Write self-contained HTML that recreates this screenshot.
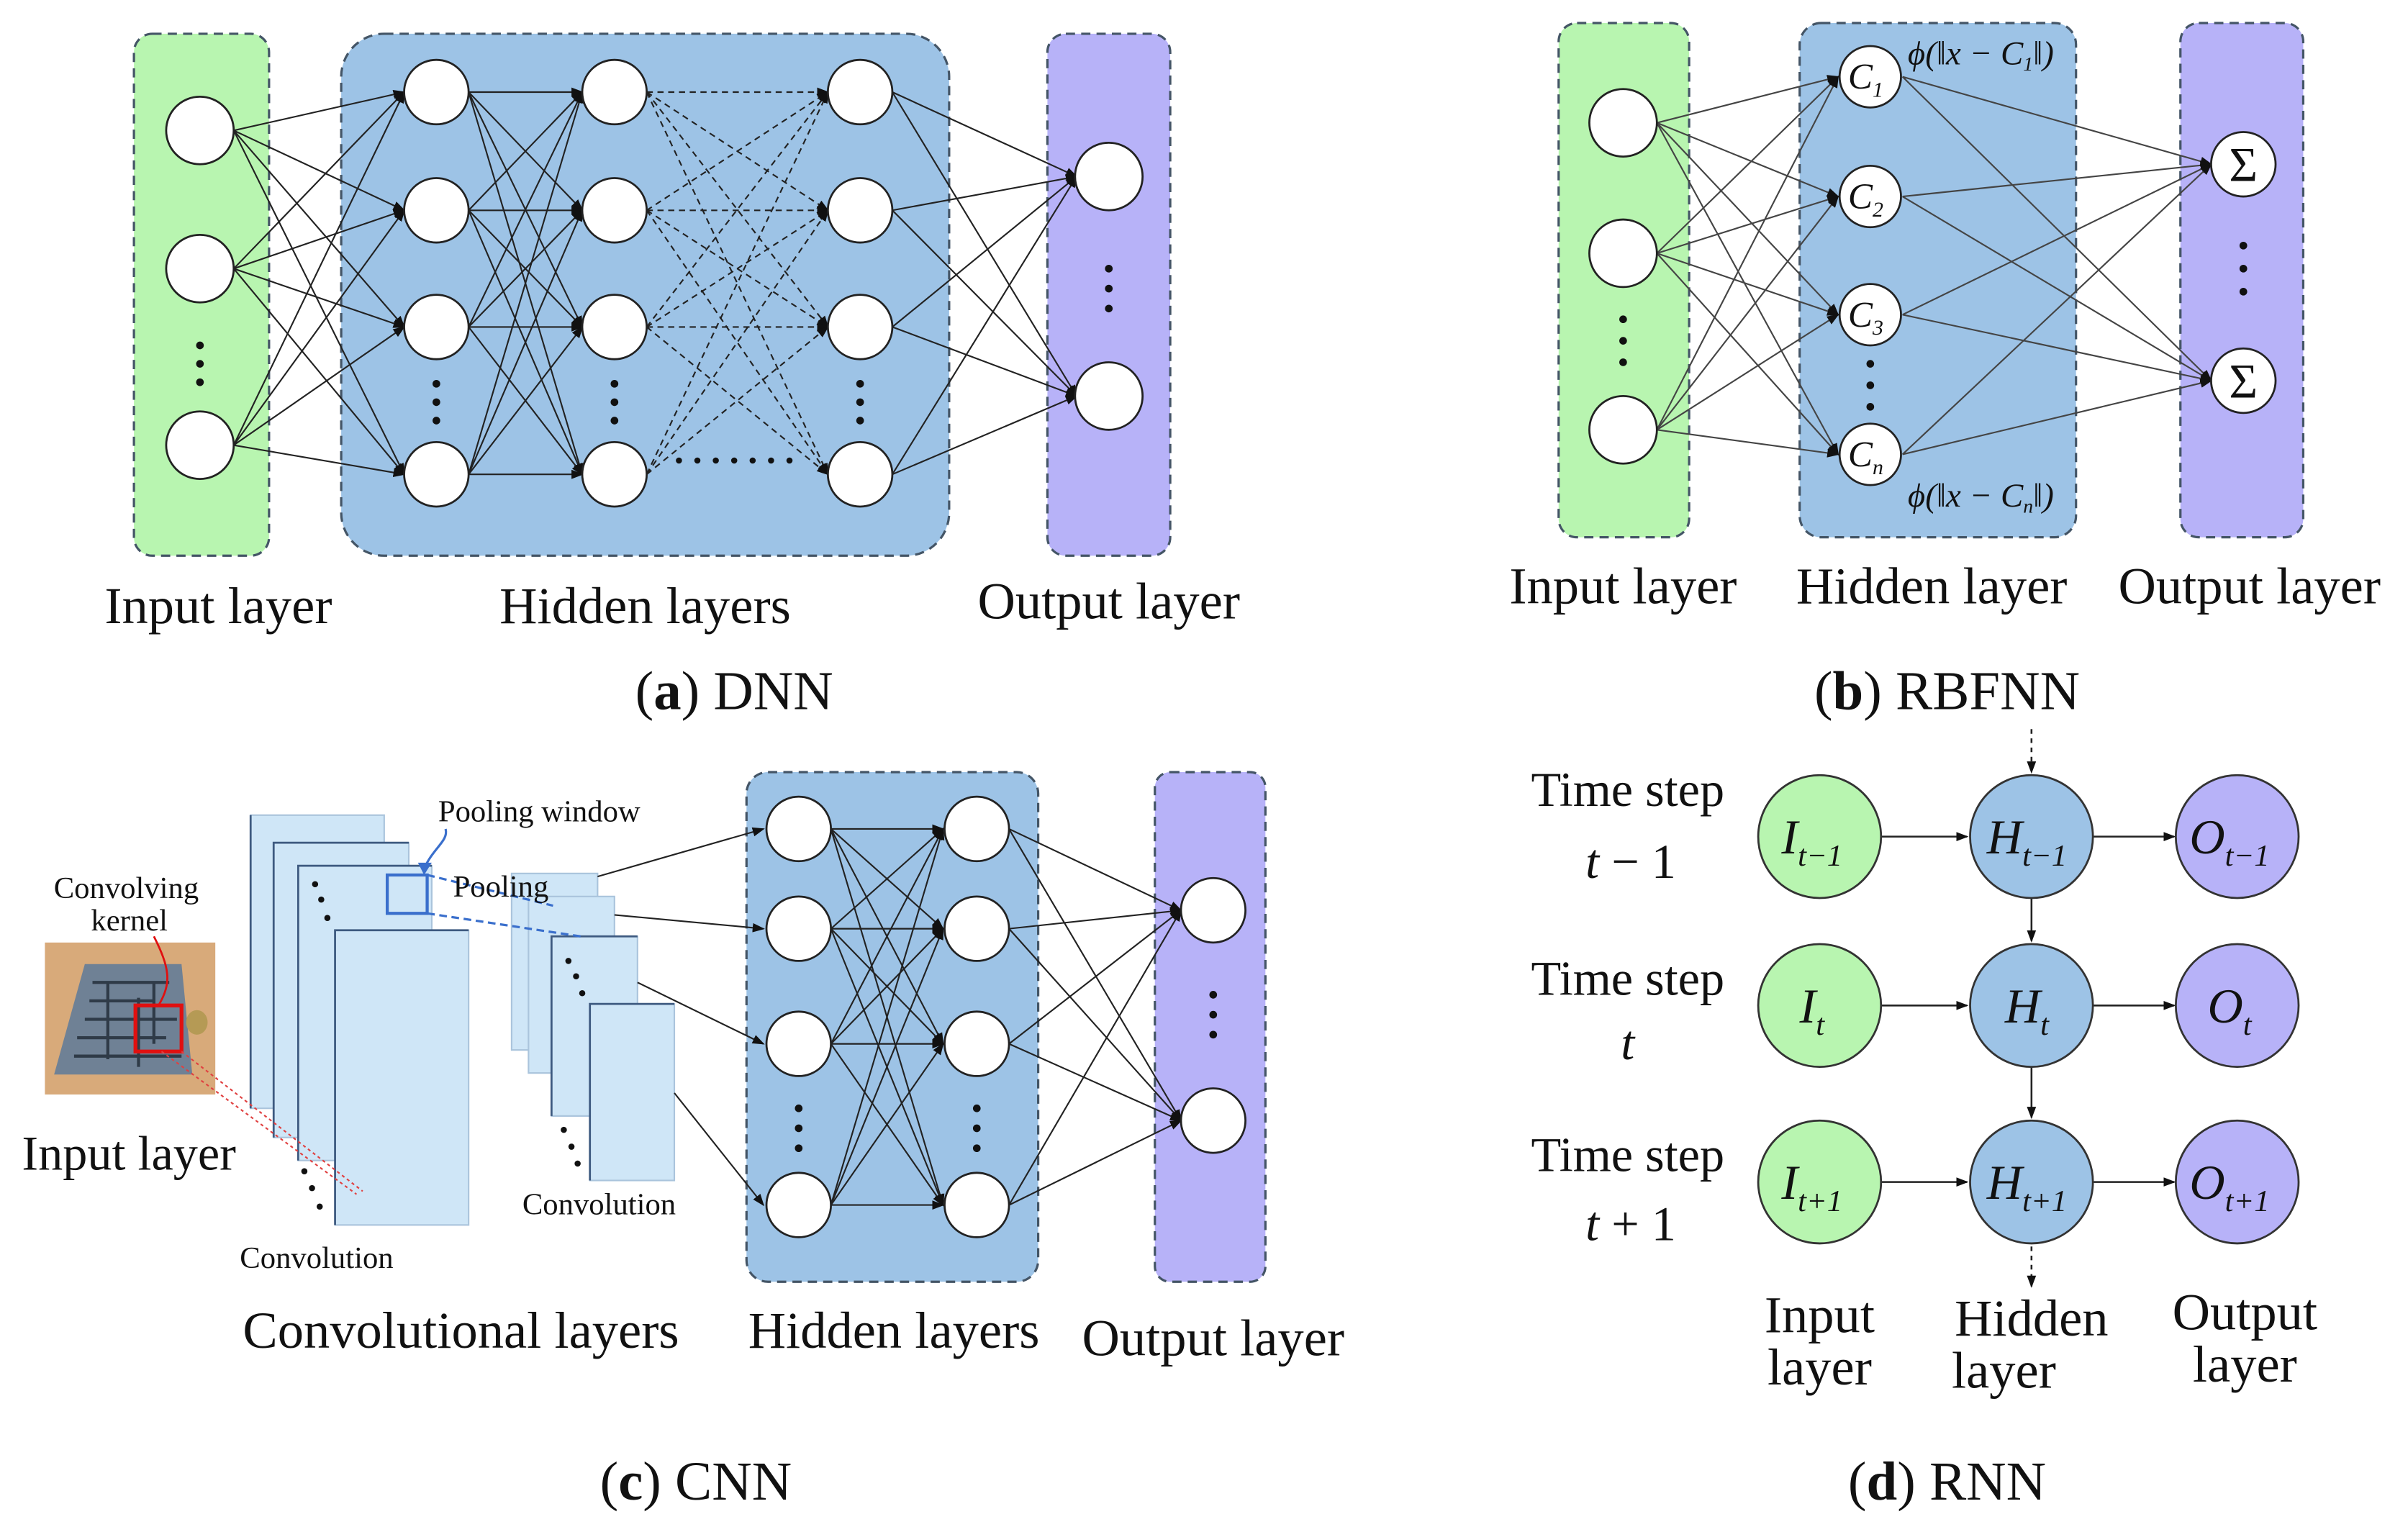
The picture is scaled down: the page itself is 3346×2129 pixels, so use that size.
<!DOCTYPE html>
<html><head><meta charset="utf-8"><style>
html,body{margin:0;padding:0;background:#fff;}
svg{display:block;}
text{font-family:"Liberation Serif",serif;fill:#111;}
</style></head><body>
<svg width="3346" height="2129" viewBox="0 0 1568 998" xmlns="http://www.w3.org/2000/svg">
<defs>
<marker id="ah" markerWidth="8" markerHeight="8" refX="7" refY="4" orient="auto" markerUnits="userSpaceOnUse"><path d="M0,1 L8,4 L0,7 z" fill="#111"/></marker>
</defs>
<rect width="1568" height="998" fill="#fff"/>

<!-- ===== (a) DNN ===== -->
<rect x="87" y="22" width="88" height="340" rx="12" fill="#b8f5b0" stroke="#445566" stroke-dasharray="6,4" stroke-width="1.5"/>
<rect x="222" y="22" width="396" height="340" rx="28" fill="#9dc3e6" stroke="#445566" stroke-dasharray="6,4" stroke-width="1.5"/>
<rect x="682" y="22" width="80" height="340" rx="12" fill="#b7b2f8" stroke="#445566" stroke-dasharray="6,4" stroke-width="1.5"/>
<g stroke="#222" stroke-width="1" fill="none" marker-end="url(#ah)">
<line x1="152" y1="85" x2="263" y2="60"/><line x1="152" y1="85" x2="263" y2="137"/><line x1="152" y1="85" x2="263" y2="213"/><line x1="152" y1="85" x2="263" y2="309"/>
<line x1="152" y1="175" x2="263" y2="60"/><line x1="152" y1="175" x2="263" y2="137"/><line x1="152" y1="175" x2="263" y2="213"/><line x1="152" y1="175" x2="263" y2="309"/>
<line x1="152" y1="290" x2="263" y2="60"/><line x1="152" y1="290" x2="263" y2="137"/><line x1="152" y1="290" x2="263" y2="213"/><line x1="152" y1="290" x2="263" y2="309"/>
<line x1="305" y1="60" x2="379" y2="60"/><line x1="305" y1="60" x2="379" y2="137"/><line x1="305" y1="60" x2="379" y2="213"/><line x1="305" y1="60" x2="379" y2="309"/>
<line x1="305" y1="137" x2="379" y2="60"/><line x1="305" y1="137" x2="379" y2="137"/><line x1="305" y1="137" x2="379" y2="213"/><line x1="305" y1="137" x2="379" y2="309"/>
<line x1="305" y1="213" x2="379" y2="60"/><line x1="305" y1="213" x2="379" y2="137"/><line x1="305" y1="213" x2="379" y2="213"/><line x1="305" y1="213" x2="379" y2="309"/>
<line x1="305" y1="309" x2="379" y2="60"/><line x1="305" y1="309" x2="379" y2="137"/><line x1="305" y1="309" x2="379" y2="213"/><line x1="305" y1="309" x2="379" y2="309"/>
<line x1="581" y1="60" x2="701" y2="115"/><line x1="581" y1="60" x2="701" y2="258"/>
<line x1="581" y1="137" x2="701" y2="115"/><line x1="581" y1="137" x2="701" y2="258"/>
<line x1="581" y1="213" x2="701" y2="115"/><line x1="581" y1="213" x2="701" y2="258"/>
<line x1="581" y1="309" x2="701" y2="115"/><line x1="581" y1="309" x2="701" y2="258"/>
</g>
<g stroke="#222" stroke-width="1" fill="none" stroke-dasharray="4,3" marker-end="url(#ah)">
<line x1="421" y1="60" x2="539" y2="60"/><line x1="421" y1="60" x2="539" y2="137"/><line x1="421" y1="60" x2="539" y2="213"/><line x1="421" y1="60" x2="539" y2="309"/>
<line x1="421" y1="137" x2="539" y2="60"/><line x1="421" y1="137" x2="539" y2="137"/><line x1="421" y1="137" x2="539" y2="213"/><line x1="421" y1="137" x2="539" y2="309"/>
<line x1="421" y1="213" x2="539" y2="60"/><line x1="421" y1="213" x2="539" y2="137"/><line x1="421" y1="213" x2="539" y2="213"/><line x1="421" y1="213" x2="539" y2="309"/>
<line x1="421" y1="309" x2="539" y2="60"/><line x1="421" y1="309" x2="539" y2="137"/><line x1="421" y1="309" x2="539" y2="213"/>
</g>
<g fill="#fff" stroke="#222" stroke-width="1.3">
<circle cx="130" cy="85" r="22"/><circle cx="130" cy="175" r="22"/><circle cx="130" cy="290" r="22"/>
<circle cx="284" cy="60" r="21"/><circle cx="284" cy="137" r="21"/><circle cx="284" cy="213" r="21"/><circle cx="284" cy="309" r="21"/>
<circle cx="400" cy="60" r="21"/><circle cx="400" cy="137" r="21"/><circle cx="400" cy="213" r="21"/><circle cx="400" cy="309" r="21"/>
<circle cx="560" cy="60" r="21"/><circle cx="560" cy="137" r="21"/><circle cx="560" cy="213" r="21"/><circle cx="560" cy="309" r="21"/>
<circle cx="722" cy="115" r="22"/><circle cx="722" cy="258" r="22"/>
</g>
<g fill="#111">
<circle cx="130" cy="225" r="2.5"/><circle cx="130" cy="237" r="2.5"/><circle cx="130" cy="249" r="2.5"/>
<circle cx="284" cy="250" r="2.5"/><circle cx="284" cy="262" r="2.5"/><circle cx="284" cy="274" r="2.5"/>
<circle cx="400" cy="250" r="2.5"/><circle cx="400" cy="262" r="2.5"/><circle cx="400" cy="274" r="2.5"/>
<circle cx="560" cy="250" r="2.5"/><circle cx="560" cy="262" r="2.5"/><circle cx="560" cy="274" r="2.5"/>
<circle cx="722" cy="175" r="2.5"/><circle cx="722" cy="188" r="2.5"/><circle cx="722" cy="201" r="2.5"/>
<circle cx="442" cy="300" r="2"/><circle cx="454" cy="300" r="2"/><circle cx="466" cy="300" r="2"/><circle cx="478" cy="300" r="2"/><circle cx="490" cy="300" r="2"/><circle cx="502" cy="300" r="2"/><circle cx="514" cy="300" r="2"/>
</g>
<g font-size="34" text-anchor="middle">
<text x="142" y="406">Input layer</text>
<text x="420" y="406">Hidden layers</text>
<text x="722" y="403">Output layer</text>
<text x="478" y="462" font-size="36">(<tspan font-weight="bold">a</tspan>) DNN</text>
</g>

<!-- ===== (b) RBFNN ===== -->
<rect x="1015" y="15" width="85" height="335" rx="12" fill="#b8f5b0" stroke="#445566" stroke-dasharray="6,4" stroke-width="1.5"/>
<rect x="1172" y="15" width="180" height="335" rx="14" fill="#9dc3e6" stroke="#445566" stroke-dasharray="6,4" stroke-width="1.5"/>
<rect x="1420" y="15" width="80" height="335" rx="12" fill="#b7b2f8" stroke="#445566" stroke-dasharray="6,4" stroke-width="1.5"/>
<g stroke="#444" stroke-width="1" fill="none" marker-end="url(#ah)">
<line x1="1079" y1="80" x2="1197" y2="50"/><line x1="1079" y1="80" x2="1197" y2="128"/><line x1="1079" y1="80" x2="1197" y2="205"/><line x1="1079" y1="80" x2="1197" y2="296"/>
<line x1="1079" y1="165" x2="1197" y2="50"/><line x1="1079" y1="165" x2="1197" y2="128"/><line x1="1079" y1="165" x2="1197" y2="205"/><line x1="1079" y1="165" x2="1197" y2="296"/>
<line x1="1079" y1="280" x2="1197" y2="50"/><line x1="1079" y1="280" x2="1197" y2="128"/><line x1="1079" y1="280" x2="1197" y2="205"/><line x1="1079" y1="280" x2="1197" y2="296"/>
<line x1="1239" y1="50" x2="1440" y2="107"/><line x1="1239" y1="50" x2="1440" y2="248"/>
<line x1="1239" y1="128" x2="1440" y2="107"/><line x1="1239" y1="128" x2="1440" y2="248"/>
<line x1="1239" y1="205" x2="1440" y2="107"/><line x1="1239" y1="205" x2="1440" y2="248"/>
<line x1="1239" y1="296" x2="1440" y2="107"/><line x1="1239" y1="296" x2="1440" y2="248"/>
</g>
<g fill="#fff" stroke="#222" stroke-width="1.3">
<circle cx="1057" cy="80" r="22"/><circle cx="1057" cy="165" r="22"/><circle cx="1057" cy="280" r="22"/>
<circle cx="1218" cy="50" r="20"/><circle cx="1218" cy="128" r="20"/><circle cx="1218" cy="205" r="20"/><circle cx="1218" cy="296" r="20"/>
<circle cx="1461" cy="107" r="21"/><circle cx="1461" cy="248" r="21"/>
</g>
<g fill="#111">
<circle cx="1057" cy="208" r="2.5"/><circle cx="1057" cy="222" r="2.5"/><circle cx="1057" cy="236" r="2.5"/>
<circle cx="1218" cy="237" r="2.5"/><circle cx="1218" cy="251" r="2.5"/><circle cx="1218" cy="265" r="2.5"/>
<circle cx="1461" cy="160" r="2.5"/><circle cx="1461" cy="175" r="2.5"/><circle cx="1461" cy="190" r="2.5"/>
</g>
<g font-size="24" font-style="italic" text-anchor="middle">
<text x="1215" y="58">C<tspan font-size="14" dy="5">1</tspan></text>
<text x="1215" y="136">C<tspan font-size="14" dy="5">2</tspan></text>
<text x="1215" y="213">C<tspan font-size="14" dy="5">3</tspan></text>
<text x="1215" y="304">C<tspan font-size="14" dy="5">n</tspan></text>
<text x="1290" y="42" font-size="22">ϕ(‖x − C<tspan font-size="13" dy="4">1</tspan><tspan dy="-4">‖)</tspan></text>
<text x="1290" y="330" font-size="22">ϕ(‖x − C<tspan font-size="13" dy="4">n</tspan><tspan dy="-4">‖)</tspan></text>
<text x="1461" y="118" font-size="32" font-style="normal">Σ</text>
<text x="1461" y="259" font-size="32" font-style="normal">Σ</text>
</g>
<g font-size="34" text-anchor="middle">
<text x="1057" y="393">Input layer</text>
<text x="1258" y="393">Hidden layer</text>
<text x="1465" y="393">Output layer</text>
<text x="1268" y="462" font-size="36">(<tspan font-weight="bold">b</tspan>) RBFNN</text>
</g>

<!-- ===== (c) CNN ===== -->
<g fill="#cfe6f7" stroke="#aac4dc" stroke-width="1">
<rect x="163" y="531" width="87" height="191"/>
<rect x="178" y="549" width="88" height="192"/>
<rect x="194" y="564" width="87" height="192"/>
<rect x="218" y="606" width="87" height="192"/>
<rect x="333" y="569" width="56" height="115"/>
<rect x="344" y="584" width="56" height="115"/>
<rect x="359" y="610" width="56" height="117"/>
<rect x="384" y="654" width="55" height="115"/>
</g>
<g stroke="#3e5a80" stroke-width="1.3" fill="none">
<path d="M163,722V531"/><path d="M178,741V549H266"/><path d="M194,756V564H281"/><path d="M218,798V606H305"/>
<path d="M359,727V610H415"/><path d="M384,769V654H439"/>
</g>
<rect x="252" y="570" width="26" height="25" fill="none" stroke="#3a6fcc" stroke-width="2"/>
<path d="M278,570L360,590M278,595L378,610" stroke="#3a6fcc" stroke-width="1.5" stroke-dasharray="5,3"/>
<path d="M290,540C292,548 282,552 276,566" stroke="#3a6fcc" stroke-width="1.5" fill="none"/>
<path d="M272,562L276,570L281,562z" fill="#3a6fcc"/>
<rect x="29" y="614" width="111" height="99" fill="#d8aa7a"/>
<path d="M55,628L118,628L125,700L35,700Z" fill="#6f8195"/>
<g stroke="#2f3b48" stroke-width="2" fill="none">
<path d="M60,640H110M58,652H100M55,664H115M50,676H108M48,688H118M70,640V690M90,650V695M100,640V680"/>
</g>
<ellipse cx="128" cy="666" rx="7" ry="8" fill="#b59a55"/>
<rect x="88" y="655" width="30" height="30" fill="none" stroke="#e01010" stroke-width="2.5"/>
<path d="M100,610C110,630 112,640 103,655" stroke="#e01010" stroke-width="1.3" fill="none"/>
<path d="M118,685L236,776M105,685L232,778" stroke="#e04040" stroke-width="1" stroke-dasharray="2,2"/>
<g fill="#111">
<circle cx="205" cy="576" r="2"/><circle cx="209" cy="586" r="2"/><circle cx="213" cy="598" r="2"/>
<circle cx="198" cy="763" r="2"/><circle cx="203" cy="774" r="2"/><circle cx="208" cy="786" r="2"/>
<circle cx="370" cy="626" r="2"/><circle cx="375" cy="636" r="2"/><circle cx="379" cy="647" r="2"/>
<circle cx="367" cy="736" r="2"/><circle cx="372" cy="747" r="2"/><circle cx="376" cy="758" r="2"/>
</g>
<g font-size="20" text-anchor="middle">
<text x="82" y="585">Convolving</text>
<text x="84" y="606">kernel</text>
<text x="351" y="535">Pooling window</text>
<text x="326" y="584">Pooling</text>
<text x="390" y="791">Convolution</text>
<text x="206" y="826">Convolution</text>
</g>
<text x="14" y="762" font-size="32">Input layer</text>

<rect x="486" y="503" width="190" height="332" rx="14" fill="#9dc3e6" stroke="#445566" stroke-dasharray="6,4" stroke-width="1.5"/>
<rect x="752" y="503" width="72" height="332" rx="10" fill="#b7b2f8" stroke="#445566" stroke-dasharray="6,4" stroke-width="1.5"/>
<g stroke="#222" stroke-width="1" fill="none" marker-end="url(#ah)">
<line x1="389" y1="571" x2="497" y2="540"/><line x1="400" y1="596" x2="497" y2="605"/><line x1="415" y1="640" x2="497" y2="680"/><line x1="439" y1="712" x2="497" y2="785"/>
<line x1="541" y1="540" x2="614" y2="540"/><line x1="541" y1="540" x2="614" y2="605"/><line x1="541" y1="540" x2="614" y2="680"/><line x1="541" y1="540" x2="614" y2="785"/>
<line x1="541" y1="605" x2="614" y2="540"/><line x1="541" y1="605" x2="614" y2="605"/><line x1="541" y1="605" x2="614" y2="680"/><line x1="541" y1="605" x2="614" y2="785"/>
<line x1="541" y1="680" x2="614" y2="540"/><line x1="541" y1="680" x2="614" y2="605"/><line x1="541" y1="680" x2="614" y2="680"/><line x1="541" y1="680" x2="614" y2="785"/>
<line x1="541" y1="785" x2="614" y2="540"/><line x1="541" y1="785" x2="614" y2="605"/><line x1="541" y1="785" x2="614" y2="680"/><line x1="541" y1="785" x2="614" y2="785"/>
<line x1="657" y1="540" x2="769" y2="593"/><line x1="657" y1="540" x2="769" y2="730"/>
<line x1="657" y1="605" x2="769" y2="593"/><line x1="657" y1="605" x2="769" y2="730"/>
<line x1="657" y1="680" x2="769" y2="593"/><line x1="657" y1="680" x2="769" y2="730"/>
<line x1="657" y1="785" x2="769" y2="593"/><line x1="657" y1="785" x2="769" y2="730"/>
</g>
<g fill="#fff" stroke="#222" stroke-width="1.3">
<circle cx="520" cy="540" r="21"/><circle cx="520" cy="605" r="21"/><circle cx="520" cy="680" r="21"/><circle cx="520" cy="785" r="21"/>
<circle cx="636" cy="540" r="21"/><circle cx="636" cy="605" r="21"/><circle cx="636" cy="680" r="21"/><circle cx="636" cy="785" r="21"/>
<circle cx="790" cy="593" r="21"/><circle cx="790" cy="730" r="21"/>
</g>
<g fill="#111">
<circle cx="520" cy="722" r="2.5"/><circle cx="520" cy="735" r="2.5"/><circle cx="520" cy="748" r="2.5"/>
<circle cx="636" cy="722" r="2.5"/><circle cx="636" cy="735" r="2.5"/><circle cx="636" cy="748" r="2.5"/>
<circle cx="790" cy="648" r="2.5"/><circle cx="790" cy="661" r="2.5"/><circle cx="790" cy="674" r="2.5"/>
</g>
<g font-size="34" text-anchor="middle">
<text x="300" y="878">Convolutional layers</text>
<text x="582" y="878">Hidden layers</text>
<text x="790" y="883">Output layer</text>
<text x="453" y="977" font-size="36">(<tspan font-weight="bold">c</tspan>) CNN</text>
</g>

<!-- ===== (d) RNN ===== -->
<g stroke="#222" stroke-width="1.2" fill="none" marker-end="url(#ah)">
<line x1="1323" y1="475" x2="1323" y2="503" stroke-dasharray="3,3"/>
<line x1="1323" y1="812" x2="1323" y2="838" stroke-dasharray="3,3"/>
<line x1="1225" y1="545" x2="1281" y2="545"/><line x1="1363" y1="545" x2="1416" y2="545"/>
<line x1="1225" y1="655" x2="1281" y2="655"/><line x1="1363" y1="655" x2="1416" y2="655"/>
<line x1="1225" y1="770" x2="1281" y2="770"/><line x1="1363" y1="770" x2="1416" y2="770"/>
<line x1="1323" y1="585" x2="1323" y2="613"/><line x1="1323" y1="695" x2="1323" y2="728"/>
</g>
<g stroke="#333" stroke-width="1.3">
<circle cx="1185" cy="545" r="40" fill="#b8f5b0"/><circle cx="1185" cy="655" r="40" fill="#b8f5b0"/><circle cx="1185" cy="770" r="40" fill="#b8f5b0"/>
<circle cx="1323" cy="545" r="40" fill="#9dc3e6"/><circle cx="1323" cy="655" r="40" fill="#9dc3e6"/><circle cx="1323" cy="770" r="40" fill="#9dc3e6"/>
<circle cx="1457" cy="545" r="40" fill="#b7b2f8"/><circle cx="1457" cy="655" r="40" fill="#b7b2f8"/><circle cx="1457" cy="770" r="40" fill="#b7b2f8"/>
</g>
<g font-size="32" font-style="italic" text-anchor="middle">
<text x="1180" y="556">I<tspan font-size="20" dy="8">t−1</tspan></text>
<text x="1180" y="666">I<tspan font-size="20" dy="8">t</tspan></text>
<text x="1180" y="781">I<tspan font-size="20" dy="8">t+1</tspan></text>
<text x="1320" y="556">H<tspan font-size="20" dy="8">t−1</tspan></text>
<text x="1320" y="666">H<tspan font-size="20" dy="8">t</tspan></text>
<text x="1320" y="781">H<tspan font-size="20" dy="8">t+1</tspan></text>
<text x="1452" y="556">O<tspan font-size="20" dy="8">t−1</tspan></text>
<text x="1452" y="666">O<tspan font-size="20" dy="8">t</tspan></text>
<text x="1452" y="781">O<tspan font-size="20" dy="8">t+1</tspan></text>
</g>
<g font-size="32" text-anchor="middle">
<text x="1060" y="525">Time step</text>
<text x="1062" y="572"><tspan font-style="italic">t</tspan> − 1</text>
<text x="1060" y="648">Time step</text>
<text x="1060" y="690" font-style="italic">t</text>
<text x="1060" y="763">Time step</text>
<text x="1062" y="808"><tspan font-style="italic">t</tspan> + 1</text>
<text x="1185" y="868" font-size="34">Input</text>
<text x="1185" y="902" font-size="34">layer</text>
<text x="1323" y="870" font-size="34">Hidden</text>
<text x="1305" y="904" font-size="34">layer</text>
<text x="1462" y="866" font-size="34">Output</text>
<text x="1462" y="900" font-size="34">layer</text>
<text x="1268" y="977" font-size="36">(<tspan font-weight="bold">d</tspan>) RNN</text>
</g>
</svg>
</body></html>
